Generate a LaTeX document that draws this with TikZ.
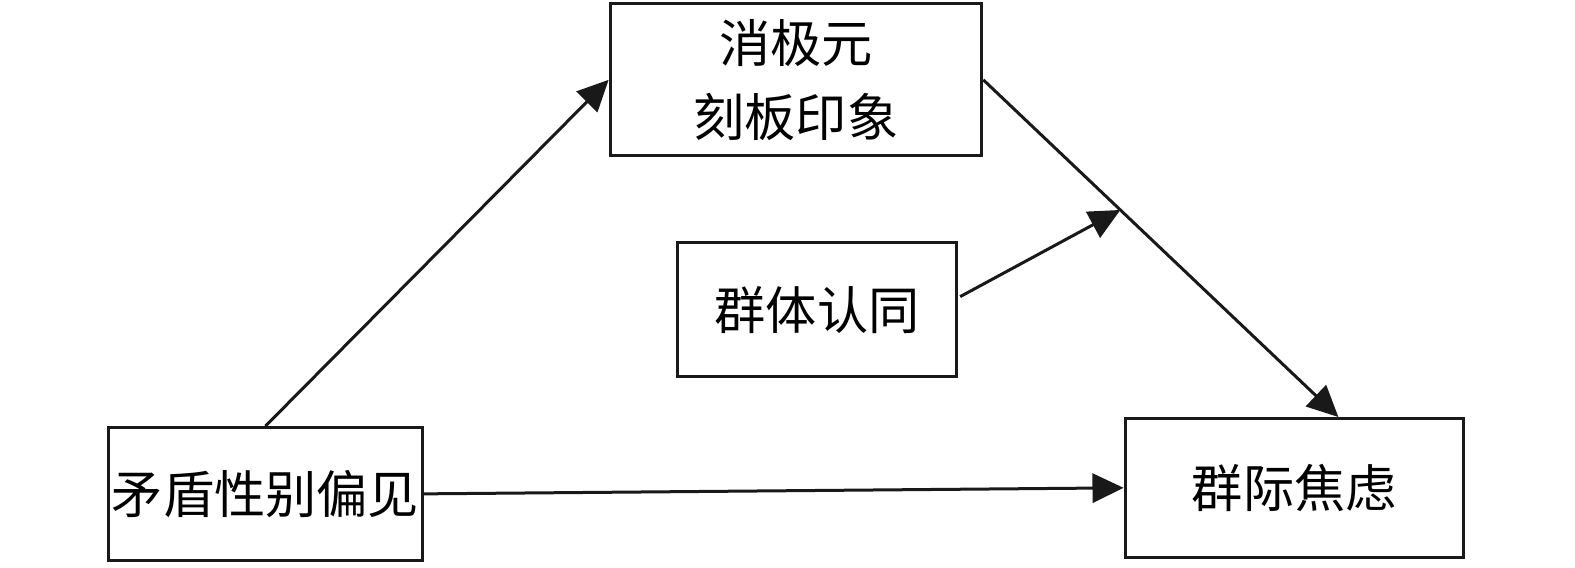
\documentclass[tikz,border=0pt]{standalone}
\usepackage{fontspec}
\newfontfamily\cjk{Noto Sans CJK SC}
\usetikzlibrary{arrows.meta,calc}
\begin{document}
\begin{tikzpicture}[x=0.01cm,y=-0.01cm,
  box/.style={draw=black!90,line width=0.85pt,inner sep=0pt,font=\cjk\fontsize{14.5}{21}\selectfont,align=center},
  arr/.style={draw=black!90,line width=0.85pt,-{Triangle[length=0.31cm,width=0.29cm]}}]
\useasboundingbox (0,0) rectangle (1569.1,564.9);
\node[box,minimum width=3.70cm,minimum height=1.51cm] (tb) at (793,79.5) {消极元\\刻板印象};
\node[box,minimum width=2.78cm,minimum height=1.33cm] (mb) at (814,308.5) {群体认同};
\node[box,minimum width=3.13cm,minimum height=1.32cm] (lb) at (264.5,492) {矛盾性别偏见};
\node[box,minimum width=3.37cm,minimum height=1.38cm] (rb) at (1289.5,486) {群际焦虑};
\coordinate (rbtop) at ($(rb.north west)+(214,0)$);
\coordinate (mid) at ($(tb.east)!0.386!(rbtop)$);
\coordinate (mbout) at ($(mb.east)+(2,-13)$);
\draw[arr] (lb.north) -- (tb.west);
\draw[arr] (tb.east) -- (rbtop);
\draw[arr] (mbout) -- (mid);
\draw[arr] (lb.east) -- (rb.west);
\end{tikzpicture}
\end{document}
